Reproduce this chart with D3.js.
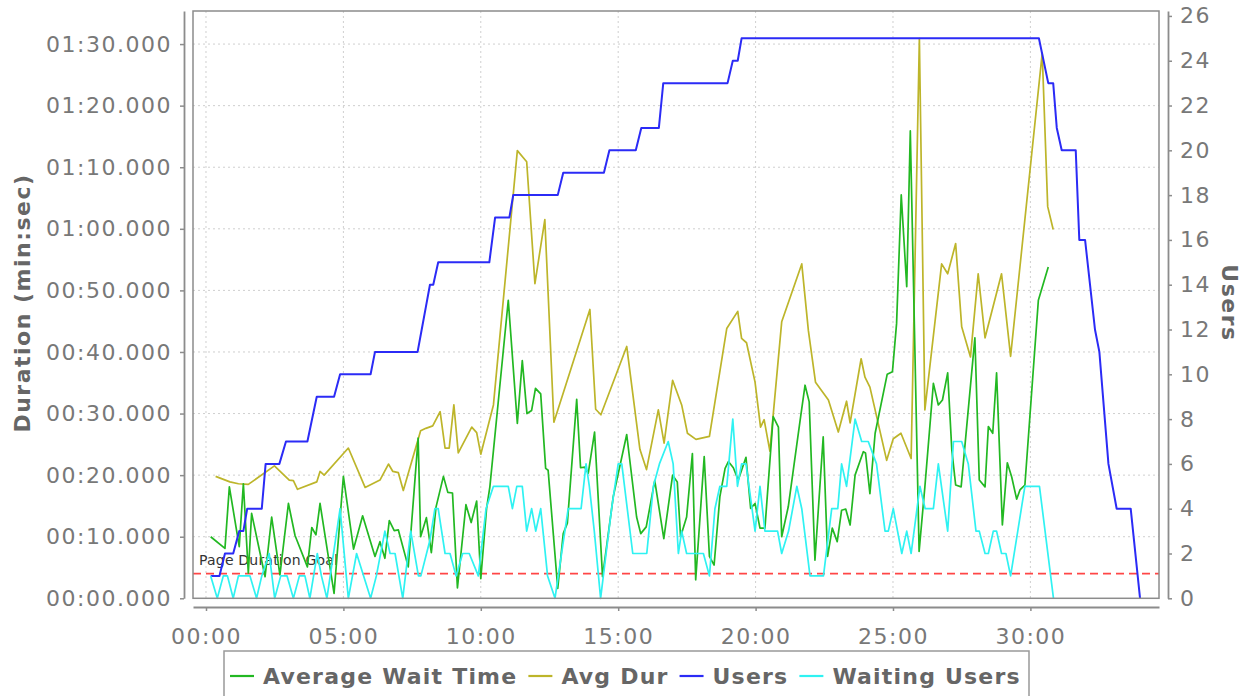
<!DOCTYPE html>
<html><head><meta charset="utf-8">
<script src="https://cdn.jsdelivr.net/npm/d3@7"></script>
<style>body{margin:0;background:#fff;} svg{display:block;}</style>
</head><body><svg id="chart" width="1246" height="696"></svg>
<script>
// ---------- data (time in minutes, durations in seconds, users as counts) ----------
const waitTimes = [0.17,0.69,0.85,1.21,1.36,1.54,1.66,2.15,2.39,2.69,3.00,3.24,3.69,3.85,4.00,4.15,4.66,5.00,5.37,5.70,6.15,6.33,6.51,6.67,6.85,7.00,7.36,7.72,7.81,8.02,8.20,8.37,8.64,8.80,8.97,9.15,9.46,9.65,9.85,10.00,10.21,10.33,11.00,11.33,11.51,11.68,11.85,11.99,12.18,12.36,12.45,12.80,13.00,13.15,13.49,13.63,13.78,13.91,14.14,14.43,14.82,15.31,15.67,15.82,16.02,16.33,16.66,16.98,17.15,17.27,17.49,17.70,17.82,18.13,18.32,18.49,18.70,18.89,19.01,19.19,19.37,19.65,19.82,19.98,20.16,20.34,20.64,20.83,20.95,21.19,21.62,21.80,21.95,22.16,22.46,22.62,22.79,22.97,23.13,23.28,23.44,23.62,23.92,24.00,24.16,24.35,24.79,24.98,25.13,25.30,25.50,25.63,25.95,26.16,26.47,26.65,26.80,26.99,27.14,27.28,27.48,27.98,28.14,28.35,28.47,28.63,28.77,28.98,29.16,29.32,29.50,29.62,29.80,30.29,30.65];
const waitValues = [10.0,8.1,18.1,8.4,18.6,4.1,13.8,3.5,13.2,3.8,15.4,10.2,5.1,11.5,10.3,15.4,0.8,19.8,8.0,13.4,6.8,9.2,6.5,12.6,11.0,11.1,5.1,26.0,10.0,13.1,7.4,14.8,19.8,17.2,17.1,1.7,15.2,12.3,15.8,3.2,14.6,18.1,48.4,28.4,38.6,30.0,30.5,34.1,33.2,21.1,20.8,1.6,10.5,12.2,32.3,21.2,21.3,20.3,27.0,3.5,16.5,26.6,13.2,10.5,11.6,19.1,9.7,20.0,18.9,10.0,13.2,23.5,3.0,23.0,6.8,5.4,16.5,21.1,22.2,21.2,19.2,22.9,14.6,15.4,11.4,11.4,29.5,27.8,10.0,14.9,28.9,34.6,31.9,6.2,26.2,6.8,11.4,9.2,14.3,14.5,11.9,20.0,23.8,23.6,17.0,26.8,36.4,36.8,44.6,65.5,50.6,75.9,7.6,18.1,34.9,31.4,32.2,36.6,24.1,18.4,18.1,42.3,19.2,18.1,27.9,26.8,36.6,11.9,22.0,19.7,16.1,17.6,18.4,48.4,53.8];

const durTimes = [0.35,0.87,1.18,1.54,2.49,3.03,3.18,3.33,4.03,4.15,4.30,5.18,5.79,6.33,6.64,6.80,7.00,7.18,7.81,8.00,8.25,8.52,8.70,8.85,9.02,9.18,9.67,9.85,10.00,10.46,11.33,11.67,11.97,12.33,12.66,13.97,14.18,14.37,15.31,15.79,16.03,16.46,16.67,16.98,17.31,17.52,17.83,18.32,18.95,19.35,19.49,19.67,19.98,20.18,20.31,20.52,20.95,21.68,21.92,22.18,22.65,23.01,23.31,23.44,23.84,23.98,24.16,24.77,25.01,25.29,25.66,25.96,26.16,26.77,26.99,27.28,27.50,27.82,28.10,28.35,28.95,29.28,30.43,30.63,30.83];
const durValues = [19.8,18.9,18.6,18.5,21.5,19.2,19.1,17.7,18.9,20.6,20.0,24.4,18.0,19.2,21.8,20.6,20.4,17.5,27.2,27.6,28.0,30.3,24.4,24.4,31.4,23.6,27.8,26.9,23.4,31.4,72.7,70.9,51.1,61.5,28.6,46.9,30.7,29.8,40.9,24.2,20.9,30.6,25.2,35.4,31.4,26.8,25.8,26.3,43.8,46.6,42.2,41.5,35.1,27.8,29.0,23.9,44.9,54.3,43.5,35.1,32.2,27.0,32.0,28.5,38.9,35.9,34.3,22.4,25.9,26.8,22.7,90.9,30.6,54.3,52.7,57.6,44.1,39.2,52.7,42.3,52.7,39.3,88.5,63.6,59.9];

const userTimes = [0.17,0.49,0.69,0.99,1.21,1.36,1.50,2.03,2.17,2.67,2.91,3.69,4.03,4.66,4.88,5.99,6.15,7.70,7.85,8.00,8.15,8.27,8.45,10.31,10.52,11.04,11.18,12.80,13.00,14.48,14.68,15.64,15.84,16.48,16.64,18.98,19.17,19.35,19.49,30.31,30.65,30.83,30.96,31.14,31.65,31.78,31.99,32.35,32.51,32.84,33.14,33.65,33.99];
const userValues = [1,1,2,2,3,3,4,4,6,6,7,7,9,9,10,10,11,11,12,13,14,14,15,15,17,17,18,18,19,19,20,20,21,21,23,23,24,24,25,25,23,23,21,20,20,16,16,12,11,6,4,4,0];

const waitingTimes = [0.17,0.41,0.63,0.78,0.99,1.18,1.60,1.84,2.03,2.30,2.50,2.72,2.95,3.18,3.40,3.60,3.78,4.05,4.20,4.40,4.88,5.18,5.48,5.99,6.20,6.51,6.70,6.88,7.16,7.45,7.73,7.82,8.15,8.33,8.45,8.70,8.88,9.10,9.34,9.58,9.91,10.19,10.46,11.00,11.15,11.31,11.51,11.67,11.85,12.00,12.18,12.43,12.70,13.18,13.65,13.83,13.95,14.13,14.36,14.76,15.00,15.13,15.53,16.04,16.28,16.50,16.82,17.00,17.19,17.31,17.49,18.10,18.32,18.52,18.70,18.95,19.17,19.34,19.49,19.65,19.98,20.16,20.34,20.80,20.95,21.20,21.50,21.68,21.98,22.47,22.77,22.99,23.13,23.31,23.62,23.86,24.10,24.40,24.71,24.83,25.01,25.32,25.50,25.66,25.98,26.17,26.47,26.65,26.99,27.20,27.50,27.74,28.02,28.14,28.35,28.47,28.65,28.77,28.95,29.11,29.28,29.80,30.33,30.84];
const waitingValues = [1,0,1,1,0,1,1,0,1,2,0,1,1,0,1,1,0,2,1,0,4,0,2,0,1,3,2,2,0,3,1,1,2.6,4,4,2,2,1,2,2,1,4,5,5,4,5,5,3,4,3,4,1,0,4,4,6,5,3,0,4,6,6,2,2,5,6,7,6,2,3,2,2,1,4,5,5,8,5,6,6,3,5,3,3,2,3,5,4,1,1,4,4,6,5,8,7,7,6,3,3,4,2,3,2,5,4,4,6,3,7,7,6,3,3,2,2,3,3,2,2,1,5,5,0];

const goalValue = 4;
const goalLabel = "Page Duration Goal";
const seriesNames = ["Average Wait Time","Avg Dur","Users","Waiting Users"];
const seriesColors = ["#22b822","#bdb52a","#2b2bf6","#2ff2f2"];

const xTickValues = [0,5,10,15,20,25,30];
const xTickLabels = ["00:00","05:00","10:00","15:00","20:00","25:00","30:00"];
const durTickValues = [0,10,20,30,40,50,60,70,80,90];
const durTickLabels = ["00:00.000","00:10.000","00:20.000","00:30.000","00:40.000","00:50.000","01:00.000","01:10.000","01:20.000","01:30.000"];
const userTickValues = [0,2,4,6,8,10,12,14,16,18,20,22,24,26];
const userTickLabels = userTickValues.map(String);
const leftTitle = "Duration (min:sec)";
const rightTitle = "Users";

// ---------- layout ----------
const P = {left:193, right:1159, top:11, bottom:598.3};
const svg = d3.select("#chart");
svg.append("rect").attr("width",1246).attr("height",696).attr("fill","#fff");

const x = d3.scaleLinear().domain([-0.473, 34.68]).range([P.left, P.right]);
const yL = d3.scaleLinear().domain([0, 95.37]).range([P.bottom, P.top]);
const yR = d3.scaleLinear().domain([0, 26.22]).range([P.bottom, P.top]);

const FONT = "'DejaVu Sans', Verdana, sans-serif";

svg.append("rect").attr("x",P.left).attr("y",P.top).attr("width",P.right-P.left).attr("height",P.bottom-P.top).attr("fill","#fff");

// grid
const grid = svg.append("g").attr("stroke","#cfcfcf").attr("stroke-width",1).attr("stroke-dasharray","2,3");
grid.selectAll("line.v").data(xTickValues).join("line")
  .attr("x1",d=>x(d)).attr("x2",d=>x(d)).attr("y1",P.top).attr("y2",P.bottom);
grid.selectAll("line.h").data(durTickValues.filter(d=>d>0)).join("line")
  .attr("x1",P.left).attr("x2",P.right).attr("y1",d=>yL(d)).attr("y2",d=>yL(d));

// goal marker
svg.append("line").attr("x1",P.left).attr("x2",P.right).attr("y1",yL(goalValue)).attr("y2",yL(goalValue))
  .attr("stroke","#ff4646").attr("stroke-width",1.6).attr("stroke-dasharray","8,5");
svg.append("text").attr("x",P.left+6).attr("y",yL(goalValue)-9).text(goalLabel)
  .attr("font-family",FONT).attr("font-size",14).attr("letter-spacing",0.2).attr("fill","#333");

// lines
const mk = (ts, vs) => d3.zip(ts, vs);
const lineL = d3.line().x(d=>x(d[0])).y(d=>yL(d[1]));
const lineR = d3.line().x(d=>x(d[0])).y(d=>yR(d[1]));
const lines = svg.append("g").attr("fill","none").attr("stroke-linejoin","round");
lines.append("path").attr("d",lineL(mk(durTimes,durValues))).attr("stroke",seriesColors[1]).attr("stroke-width",1.7);
lines.append("path").attr("d",lineL(mk(waitTimes,waitValues))).attr("stroke",seriesColors[0]).attr("stroke-width",1.7);
lines.append("path").attr("d",lineR(mk(userTimes,userValues))).attr("stroke",seriesColors[2]).attr("stroke-width",2);
lines.append("path").attr("d",lineR(mk(waitingTimes,waitingValues))).attr("stroke",seriesColors[3]).attr("stroke-width",1.7);

// plot border
svg.append("rect").attr("x",P.left).attr("y",P.top).attr("width",P.right-P.left).attr("height",P.bottom-P.top)
  .attr("fill","none").attr("stroke","#8c8c8c").attr("stroke-width",1.5);

// axes
function styleAxis(g){
  g.selectAll(".domain").attr("stroke","#8c8c8c").attr("stroke-width",1.8);
  g.selectAll(".tick line").attr("stroke","#8c8c8c").attr("stroke-width",1.5);
  g.selectAll(".tick text").attr("fill","#787878").attr("font-family",FONT).attr("font-size",22).attr("letter-spacing",1.5);
}
const axL = svg.append("g").attr("transform","translate(184,0)")
  .call(d3.axisLeft(yL).tickValues(durTickValues).tickFormat((d,i)=>durTickLabels[i]).tickSize(4).tickSizeOuter(0).tickPadding(8));
styleAxis(axL);
const axB = svg.append("g").attr("transform","translate(0,607)")
  .call(d3.axisBottom(x).tickValues(xTickValues).tickFormat((d,i)=>xTickLabels[i]).tickSize(4).tickSizeOuter(0).tickPadding(17));
styleAxis(axB);
const axR = svg.append("g").attr("transform","translate(1168,0)")
  .call(d3.axisRight(yR).tickValues(userTickValues).tickFormat((d,i)=>userTickLabels[i]).tickSize(4).tickSizeOuter(0).tickPadding(8));
styleAxis(axR);

// axis titles
svg.append("text").attr("transform","translate(30,303) rotate(-90)").attr("text-anchor","middle")
  .attr("font-family",FONT).attr("font-weight","bold").attr("font-size",22).attr("letter-spacing",1.5).attr("fill","#666").text(leftTitle);
svg.append("text").attr("transform","translate(1222,303) rotate(90)").attr("text-anchor","middle")
  .attr("font-family",FONT).attr("font-weight","bold").attr("font-size",22).attr("letter-spacing",1.5).attr("fill","#666").text(rightTitle);

// legend
const lg = svg.append("g");
lg.append("rect").attr("x",224).attr("y",651).attr("width",805).attr("height",60)
  .attr("fill","#fff").attr("stroke","#999").attr("stroke-width",1.5);
let cx = 230;
seriesNames.forEach((name,i)=>{
  lg.append("line").attr("x1",cx).attr("x2",cx+24).attr("y1",676).attr("y2",676)
    .attr("stroke",seriesColors[i]).attr("stroke-width",2.2);
  const t = lg.append("text").attr("x",cx+33).attr("y",684).text(name)
    .attr("font-family",FONT).attr("font-weight","bold").attr("font-size",22).attr("letter-spacing",1.2)
    .attr("fill","#666");
  cx = cx + 33 + t.node().getComputedTextLength() + 11;
});
</script></body></html>
